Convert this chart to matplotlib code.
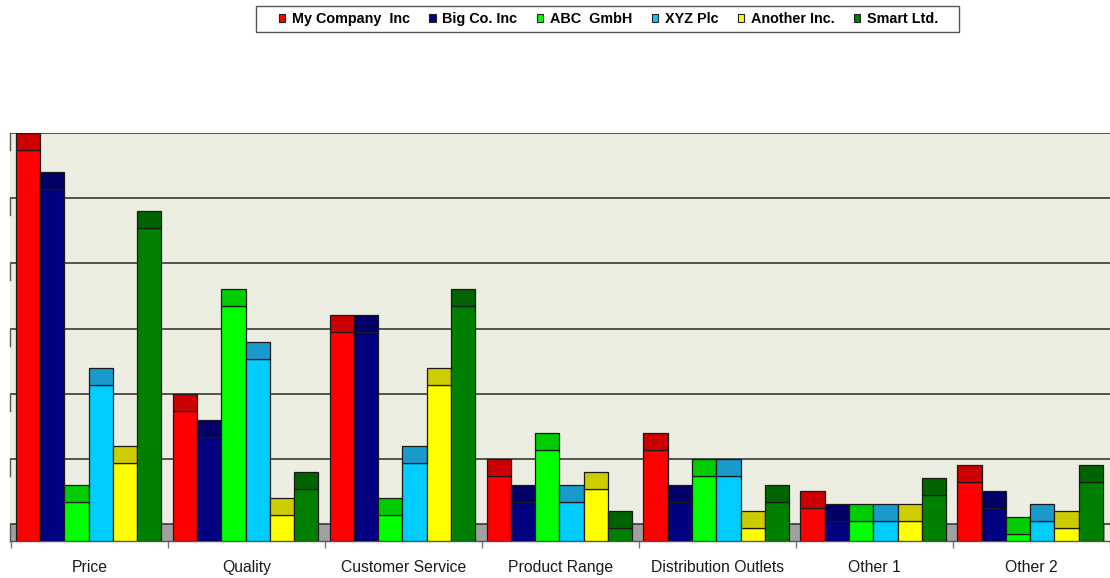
import matplotlib
matplotlib.use("Agg")
import matplotlib.pyplot as plt
from matplotlib.patches import Patch, Rectangle
import matplotlib.transforms as mtransforms

categories = ["Price", "Quality", "Customer Service", "Product Range",
              "Distribution Outlets", "Other 1", "Other 2"]
series_names = ["My Company  Inc", "Big Co. Inc", "ABC  GmbH", "XYZ Plc",
                "Another Inc.", "Smart Ltd."]
my_company = [60, 20, 32, 10, 14, 5, 9]
big_co = [54, 16, 32, 6, 6, 3, 5]
abc_gmbh = [6, 36, 4, 14, 10, 3, 1]
xyz_plc = [24, 28, 12, 6, 10, 3, 3]
another_inc = [12, 4, 24, 8, 2, 3, 2]
smart_ltd = [48, 8, 36, 2, 6, 7, 9]
series_values = [my_company, big_co, abc_gmbh, xyz_plc, another_inc, smart_ltd]
grid_values = [0, 10, 20, 30, 40, 50, 60]

front_colors = ["#FF0000", "#000080", "#00FF00", "#00CCFF", "#FFFF00", "#008000"]
cap_colors = ["#CC0000", "#000066", "#00CC00", "#1A9ACC", "#CCCC00", "#006400"]

W, H = 1110, 578
fig = plt.figure(figsize=(W / 100, H / 100), dpi=100)
fig.patch.set_facecolor("white")

px_left, px_right, px_bottom, px_top = 10, 1110, 541, 133
ax = fig.add_axes([px_left / W, (H - px_bottom) / H,
                   (px_right - px_left) / W, (px_bottom - px_top) / H])

k = (524 - 133) / 60.0          # px per unit
depth = 17 / k                  # cap / floor depth in data units
cat_px = 157.7
first_boundary_px = 11.5
xmin = -0.5 - (first_boundary_px - px_left) / cat_px
xmax = -0.5 + (px_right - first_boundary_px) / cat_px
ax.set_xlim(xmin, xmax)
ax.set_ylim(0, (px_bottom - px_top) / k)
ax.set_facecolor("#ECEEE1")

# floor
ax.add_patch(Rectangle((xmin, 0), xmax - xmin, depth, facecolor="#A0A0A0",
                       edgecolor="none", zorder=1))
# back-wall gridlines
for g in grid_values:
    ax.axhline(g + depth, color="#3A3A3A", lw=1.2, zorder=2)
# left wall stubs
trans = mtransforms.blended_transform_factory(ax.transAxes, ax.transData)
for g in grid_values:
    ax.plot([0, 0], [g, g + depth], color="#555555", lw=1.0, transform=trans,
            zorder=3, clip_on=False)

bar_w = 24.4 / cat_px
shift = -1.35 / cat_px
for j, vals in enumerate(series_values):
    for i, v in enumerate(vals):
        xc = i + (j - 2.5) * bar_w + shift
        ax.bar(xc, v, width=bar_w, bottom=0, color=front_colors[j],
               edgecolor="#1a1a1a", linewidth=0.9, zorder=4)
        ax.bar(xc, depth, width=bar_w, bottom=v, color=cap_colors[j],
               edgecolor="#1a1a1a", linewidth=0.9, zorder=4)

for s in ["top", "right", "left"]:
    ax.spines[s].set_visible(False)
ax.spines["bottom"].set_color("#555555")
ax.spines["bottom"].set_linewidth(1.0)
ax.set_yticks([])

boundaries = [i - 0.5 for i in range(len(categories) + 1)]
ax.set_xticks(boundaries)
ax.set_xticklabels([])
ax.tick_params(axis="x", which="major", length=5, color="#777777", width=1)
ax.set_xticks(range(len(categories)), minor=True)
ax.set_xticklabels(categories, minor=True, fontsize=11.3,
                   fontfamily="Liberation Sans", color="#1a1a1a")
ax.tick_params(axis="x", which="minor", length=0, pad=13.5)

# legend box
fig.patches.append(Rectangle((256 / W, 1 - 32 / H), (959 - 256) / W, 26 / H,
                             transform=fig.transFigure, facecolor="white",
                             edgecolor="#555555", linewidth=1.0, zorder=1))
handles = [Patch(facecolor=front_colors[j], edgecolor="#222222", linewidth=0.8)
           for j in range(len(series_names))]
leg = fig.legend(handles, series_names, loc="center",
                 bbox_to_anchor=(608.5 / W, 1 - 19 / H), ncol=6, frameon=False,
                 handlelength=0.45, handleheight=0.45, handletextpad=0.45,
                 columnspacing=1.35, borderpad=0, borderaxespad=0,
                 prop={"family": "Liberation Sans", "weight": "bold", "size": 10.4})
leg.set_zorder(2)

fig.savefig("out.png", dpi=100, facecolor="white")
